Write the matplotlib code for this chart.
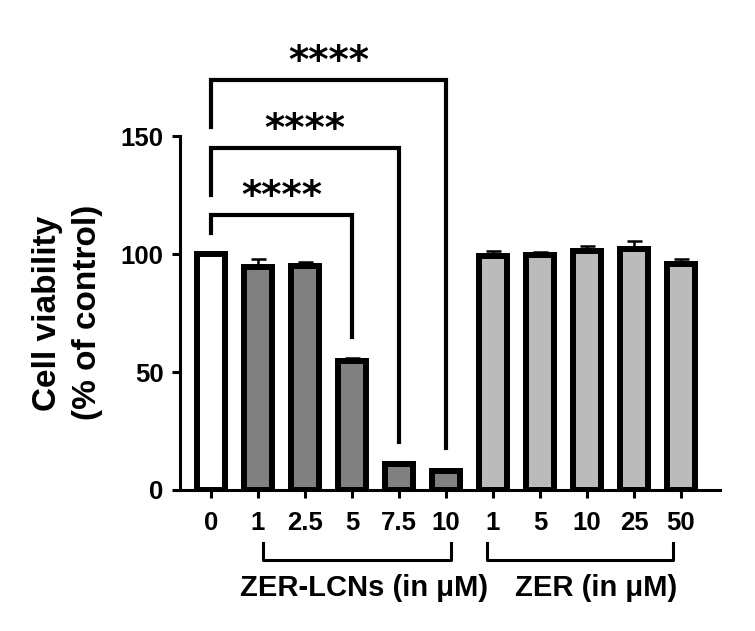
import numpy as np
import matplotlib.pyplot as plt
import matplotlib.transforms as mtransforms

plt.rcParams['font.family'] = ['Liberation Sans', 'DejaVu Sans']
plt.rcParams['font.weight'] = 'bold'

# Datos
tick_labels = ['0', '1', '2.5', '5', '7.5', '10', '1', '5', '10', '25', '50']
viability = [100, 94.5, 95.0, 54.6, 11.0, 8.2, 99.0, 99.4, 101.5, 102.0, 95.8]
sem = [0, 3.4, 1.6, 1.4, 0.9, 0.8, 2.2, 1.3, 1.8, 3.5, 2.2]
bar_colors = ['white'] + ['#808080'] * 5 + ['#babbba'] * 5

# comparaciones: (barra izq, barra der, altura, fin pata izq, fin pata der)
comparisons = [(0, 3, 116.5, 109, 65),
               (0, 4, 145, 125, 20.5),
               (0, 5, 174, 154, 17.8)]
sig_text = '****'

# grupos bajo el eje x
group_names = ['ZER-LCNs (in μM)', 'ZER (in μM)']
group_spans = [(1.1, 5.1), (5.87, 9.83)]
group_text_x = [3.26, 8.19]

x = np.arange(len(viability))

fig = plt.figure(figsize=(7.55, 6.31), dpi=100)
ax = fig.add_axes([0.2384, 0.2235, 0.7152, 0.729])

ax.bar(x, viability, width=0.6, color=bar_colors, edgecolor='black',
       linewidth=4.3, zorder=3)
ax.errorbar(x, viability, yerr=[np.zeros(len(sem)), sem], fmt='none',
            ecolor='black', elinewidth=1.8, capsize=5.4, capthick=1.8, zorder=2)

for left, right, h, lb, rb in comparisons:
    ax.plot([left, left, right, right], [lb, h, h, rb], color='black',
            lw=3, solid_joinstyle='miter', clip_on=False)
    ax.text((left + right) / 2, h - 0.5, sig_text, ha='center', va='bottom',
            fontsize=28, fontweight='bold', family='DejaVu Sans')

ax.set_xlim(-0.66, 10.83)
ax.set_ylim(0, 195)
ax.set_xticks(x)
ax.set_xticklabels(tick_labels, fontsize=18.5, fontweight='bold')
ax.set_yticks([0, 50, 100, 150])
ax.set_yticklabels(['0', '50', '100', '150'], fontsize=18.5, fontweight='bold')
ax.tick_params(width=2.2, length=6, pad=6)
ax.tick_params(axis='x', pad=9)
ax.spines['top'].set_visible(False)
ax.spines['right'].set_visible(False)
ax.spines['left'].set_bounds(0, 150)
for s in ['left', 'bottom']:
    ax.spines[s].set_linewidth(2.2)

ax.set_ylabel('Cell viability\n(% of control)', fontsize=24, fontweight='bold',
              linespacing=1.35)
ax.yaxis.set_label_coords(-0.143, 0.385)

trans = mtransforms.blended_transform_factory(ax.transData, ax.transAxes)
for name, (a, b), tx in zip(group_names, group_spans, group_text_x):
    ax.plot([a, a, b, b], [-0.115, -0.152, -0.152, -0.115], color='black',
            lw=2.2, transform=trans, clip_on=False)
    ax.text(tx, -0.213, name, transform=trans, ha='center', va='center',
            fontsize=21, fontweight='bold')

fig.savefig('out.png', dpi=100)
